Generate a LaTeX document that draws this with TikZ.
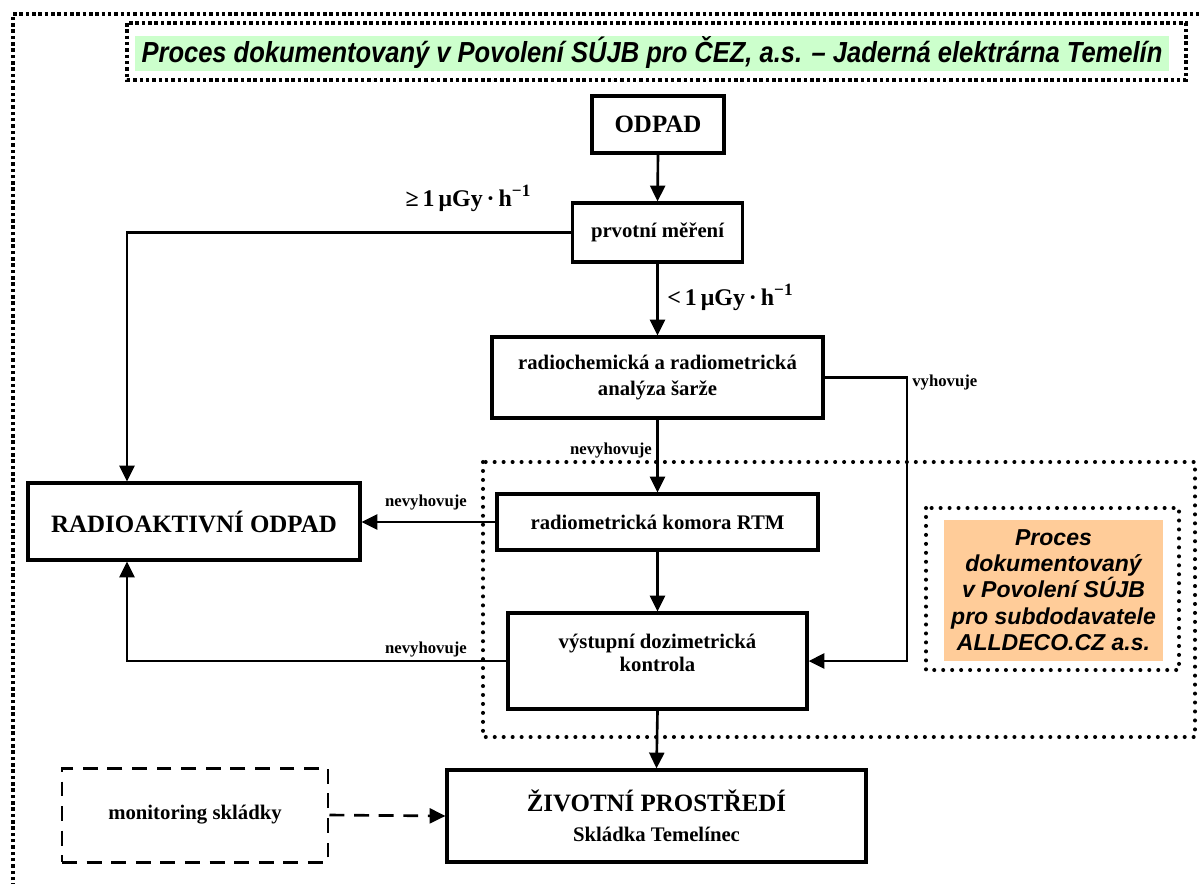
\documentclass[tikz,border=0pt]{standalone}
\usepackage{fontspec}
\setmainfont{Liberation Serif}
\newfontfamily\sansf{Liberation Sans}
\usetikzlibrary{arrows.meta,calc}
\definecolor{titlegreen}{HTML}{CCFFCC}
\definecolor{subor}{HTML}{FFCC99}
\begin{document}
\begin{tikzpicture}[x=0.02cm,y=-0.02cm,
  box/.style={draw, line width=1.8pt, inner sep=0pt, align=center,
    font=\bfseries\fontsize{11.8}{14.5}\selectfont, fill=white},
  bigbox/.style={box, font=\bfseries\fontsize{14.2}{17}\selectfont},
  conn/.style={line width=1.5pt},
  arr/.style={conn, -{Triangle[length=9pt,width=8.5pt]}},
  lab/.style={font=\bfseries\fontsize{9.5}{11}\selectfont, inner sep=0pt},
  dose/.style={font=\bfseries\fontsize{13.6}{16}\selectfont, inner sep=0pt},
  sqdots/.style={line width=2.2pt, dash pattern=on 2pt off 1.6pt},
  rddots/.style={line width=2.3pt, line cap=round, dash pattern=on 0pt off 5.1pt},
  dashbox/.style={box, dash pattern=on 8.5pt off 5.5pt, line width=1.7pt},
  sansit/.style={font=\sansf\bfseries\itshape\fontsize{#1}{15}\selectfont, inner sep=0pt, align=center},
  txt/.style={inner sep=0pt, align=center, font=\bfseries\fontsize{11.8}{13.2}\selectfont}
]
\useasboundingbox (0,0) rectangle (1200,883);
\clip (0,0) rectangle (1200,883);

% outer dotted frame
\draw[sqdots] (13,950) -- (13,14) -- (1260,14);

% title
\draw[sqdots] (127,23) rectangle (1186,80);
\fill[titlegreen] (135,36) rectangle (1169,71);
\node[sansit=16.5] (title) at (652,53) {\scalebox{0.88}[1]{Proces dokumentovaný v Povolení SÚJB pro ČEZ, a.s. – Jaderná elektrárna Temelín}};

% inner dotted frame
\draw[rddots] (483,462) rectangle (1195,737);

% subcontractor box
\draw[rddots] (926,508) rectangle (1179,670);
\fill[subor] (944,520) rectangle (1163,661);
\node[sansit=13.1] (sub) at (1053.5,590) {Proces\\dokumentovaný\\v Povolení SÚJB\\pro subdodavatele\\ALLDECO.CZ a.s.};

% nodes
\node[bigbox, minimum width=132*0.02cm, minimum height=57*0.02cm] (odpad) at (658,124.5) {ODPAD};
\node[box, minimum width=170*0.02cm, minimum height=59*0.02cm] (prv) at (657.5,232.5) {prvotní měření};
\node[box, minimum width=331*0.02cm, minimum height=81*0.02cm] (rch) at (657.5,377.5) {radiochemická a radiometrická\\analýza šarže};
\node[box, minimum width=321*0.02cm, minimum height=56*0.02cm] (rtm) at (657.5,522) {radiometrická komora RTM};
\node[box, minimum width=299*0.02cm, minimum height=96*0.02cm] (vdk) at (657.5,661) {};
\node[txt] (vdkt) at (657.5,653) {výstupní dozimetrická\\kontrola};
\node[bigbox, minimum width=332*0.02cm, minimum height=77*0.02cm] (rao) at (194,521.5) {RADIOAKTIVNÍ ODPAD};
\node[bigbox, minimum width=419*0.02cm, minimum height=92*0.02cm] (ziv) at (656.5,816) {ŽIVOTNÍ PROSTŘEDÍ\\{\fontsize{11.8}{14}\selectfont Skládka Temelínec}};
\node[dashbox, minimum width=266*0.02cm, minimum height=94*0.02cm, fill=none] (mon) at (195,815) {monitoring skládky};

\coordinate (cx) at (127,0);
\coordinate (vx) at (907,0);

% connectors
\draw[arr] (odpad.south) -- (prv.north);
\draw[arr] (prv.west) -| (cx |- rao.north);
\draw[arr] (prv.south) -- (rch.north);
\draw[arr] (rch.south) -- (rtm.north);
\draw[arr] (rch.east) -| (vx |- vdk.east) -- (vdk.east);
\draw[arr] (rtm.west) -- (rtm.west -| rao.east);
\draw[arr] (rtm.south) -- (vdk.north);
\draw[arr] (vdk.west) -| (cx |- rao.south);
\draw[arr] (vdk.south) -- (ziv.north);
\draw[arr, dash pattern=on 8.5pt off 5.5pt] (mon.east) -- (ziv.west);

% labels
\node[dose] (l1) at (468,198) {≥\,1\,μGy\,·\,h\raisebox{0.42em}{\fontsize{9.8}{10}\selectfont −1}};
\node[dose] (l2) at (730,297) {<\,1\,μGy\,·\,h\raisebox{0.42em}{\fontsize{9.8}{10}\selectfont −1}};
\node[lab, anchor=west] (l3) at (912,383) {vyhovuje};
\node[lab] (l4) at (611,451) {nevyhovuje};
\node[lab] (l5) at (426,503) {nevyhovuje};
\node[lab] (l6) at (426,649) {nevyhovuje};
\end{tikzpicture}
\end{document}
